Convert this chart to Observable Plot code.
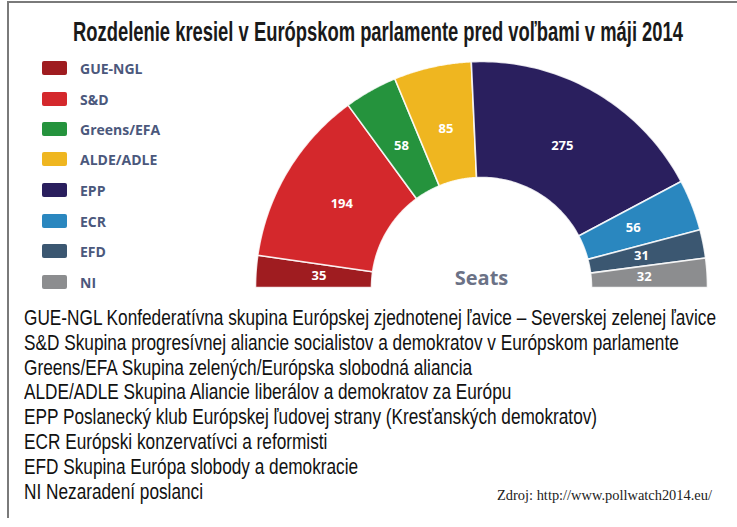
<!DOCTYPE html>
<html>
<head>
<meta charset="utf-8">
<script src="https://cdn.jsdelivr.net/npm/d3@7"></script>
<script src="https://cdn.jsdelivr.net/npm/@observablehq/plot@0.6"></script>
<style>
  html, body { margin: 0; padding: 0; background: #fff; }
  #wrap { position: relative; width: 737px; height: 527px; overflow: hidden; }
  #frame { position: absolute; left: 7px; top: 1px; width: 740px; height: 515px;
           border-top: 2px solid #7a7a7a; border-left: 2px solid #7a7a7a; }
  #title { position: absolute; left: 73px; top: 16px; transform-origin: 0 0;
           font-family: "Liberation Sans", Arimo, sans-serif;
           font-weight: bold; font-size: 27px; line-height: 32px; color: #1a1a1a; white-space: nowrap; }
  #chart { position: absolute; left: 0; top: 0; }
  .leg { position: absolute; left: 42px; height: 14px; display: flex; align-items: center; }
  .sw { width: 25px; height: 14px; border-radius: 2px; flex: none; }
  .lt { margin-left: 13px; font-family: "Open Sans", sans-serif; font-weight: bold;
        font-size: 14px; color: #4b587c; white-space: nowrap; }
  #notes { position: absolute; left: 24px; top: 306px; transform-origin: 0 0;
           font-family: "Liberation Sans", Arimo, sans-serif;
           font-size: 22px; line-height: 24.8px; color: #111; white-space: nowrap; }
  #notes div { display: block; }
  #src { position: absolute; left: 497px; top: 488px; font-family: "Liberation Serif", serif;
         font-size: 14px; color: #222; white-space: nowrap; transform-origin: 0 0; }
</style>
</head>
<body>
<div id="wrap">
  <div id="frame"></div>
  <div id="title">Rozdelenie kresiel v Európskom parlamente pred voľbami v máji 2014</div>
  <div id="chart"></div>
  <div id="legend"></div>
  <div id="notes"></div>
  <div id="src">Zdroj: http://www.pollwatch2014.eu/</div>
</div>
<script>
// ---- data ----
const parties = ["GUE-NGL", "S&D", "Greens/EFA", "ALDE/ADLE", "EPP", "ECR", "EFD", "NI"];
const seats = [35, 194, 58, 85, 275, 56, 31, 32];
const colors = ["#9f1c20", "#d4282c", "#25933d", "#efb620", "#2a1f5e", "#2a87bf", "#3b5771", "#8c8d8f"];
const centerLabel = "Seats";
const descriptions = [
  "GUE-NGL Konfederatívna skupina Európskej zjednotenej ľavice – Severskej zelenej ľavice",
  "S&D Skupina progresívnej aliancie socialistov a demokratov v Európskom parlamente",
  "Greens/EFA Skupina zelených/Európska slobodná aliancia",
  "ALDE/ADLE Skupina Aliancie liberálov a demokratov za Európu",
  "EPP Poslanecký klub Európskej ľudovej strany (Kresťanských demokratov)",
  "ECR Európski konzervatívci a reformisti",
  "EFD Skupina Európa slobody a demokracie",
  "NI Nezaradení poslanci"
];

// ---- layout ----
const R = 226, r = 110, labelR = 163;
const total = d3.sum(seats);
const angle = d3.scaleLinear([0, total], [Math.PI, 0]);
const cum = d3.cumsum(seats);

const segs = parties.map((p, i) => ({ party: p, seats: seats[i], c0: cum[i] - seats[i], c1: cum[i] }));
const poly = [];
for (const s of segs) {
  const n = 60;
  for (let k = 0; k <= n; k++) {
    const a = angle(s.c0 + (s.c1 - s.c0) * k / n);
    poly.push({ party: s.party, x: R * Math.cos(a), y: R * Math.sin(a) });
  }
  for (let k = n; k >= 0; k--) {
    const a = angle(s.c0 + (s.c1 - s.c0) * k / n);
    poly.push({ party: s.party, x: r * Math.cos(a), y: r * Math.sin(a) });
  }
}
const labels = segs.map(s => {
  const a = angle((s.c0 + s.c1) / 2);
  return { party: s.party, text: String(s.seats), x: labelR * Math.cos(a), y: labelR * Math.sin(a) };
});

const chart = Plot.plot({
  width: 737, height: 300,
  margin: 0,
  x: { domain: [-481, 256], axis: null },
  y: { domain: [-13, 287], axis: null },
  color: { domain: parties, range: colors },
  marks: [
    Plot.line(poly, { x: "x", y: "y", z: "party", fill: "party", stroke: "#fff",
                      strokeWidth: 1.6, strokeOpacity: 0.85, curve: "linear-closed" }),
    Plot.text(labels, { x: "x", y: "y", text: "text", fill: "#fff", fontWeight: "bold",
                        fontSize: 13, fontFamily: "Open Sans, sans-serif" }),
    Plot.text([centerLabel], { x: () => 0, y: () => 9, text: d => d, fill: "#6b7286",
                        fontWeight: "bold", fontSize: 20, fontFamily: "Open Sans, sans-serif" })
  ]
});
document.getElementById("chart").appendChild(chart);

// legend
const legendTop = [68, 99, 129, 159, 190, 221, 251, 282];
const leg = document.getElementById("legend");
parties.forEach((p, i) => {
  const row = document.createElement("div");
  row.className = "leg";
  row.style.top = (legendTop[i] - 7) + "px";
  const sw = document.createElement("div");
  sw.className = "sw"; sw.style.background = colors[i];
  const t = document.createElement("div");
  t.className = "lt"; t.textContent = p;
  row.appendChild(sw); row.appendChild(t);
  leg.appendChild(row);
});

// notes
const notes = document.getElementById("notes");
descriptions.forEach(d => {
  const div = document.createElement("div");
  const span = document.createElement("span");
  span.textContent = d;
  div.appendChild(span);
  notes.appendChild(div);
});

// condense text to match the narrow typeface of the original
function fitX(el, measureEl, target) {
  const w = measureEl.getBoundingClientRect().width;
  if (w > 0) el.style.transform = "scaleX(" + (target / w) + ")";
}
const titleEl = document.getElementById("title");
titleEl.style.display = "inline-block";
fitX(titleEl, titleEl, 610);
fitX(notes, notes.querySelector("span"), 692);
const srcEl = document.getElementById("src");
fitX(srcEl, srcEl, 215);
</script>
</body>
</html>
